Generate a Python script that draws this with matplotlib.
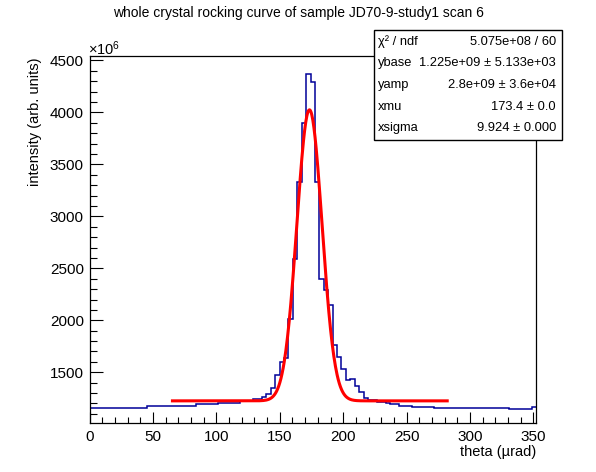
import numpy as np
import matplotlib
matplotlib.use("Agg")
import matplotlib.pyplot as plt
from matplotlib.patches import Rectangle
from matplotlib.ticker import MultipleLocator

plt.rcParams['font.family'] = ['Liberation Sans', 'DejaVu Sans']
plt.rcParams['mathtext.fontset'] = 'custom'
plt.rcParams['mathtext.rm'] = 'Liberation Sans'
plt.rcParams['mathtext.it'] = 'Liberation Sans:italic'

# histogram (intensity in units of 1e6), 101 bins from 0 to 352 urad
x_min, x_max = 0.0, 352.0
counts = [
    1160, 1160, 1160, 1160, 1160, 1160, 1160, 1160, 1160, 1160,
    1160, 1160, 1160, 1172, 1172, 1172, 1172, 1172, 1172, 1172,
    1172, 1172, 1172, 1172, 1191, 1191, 1191, 1191, 1191, 1201,
    1201, 1201, 1201, 1201, 1223, 1223, 1223, 1242, 1242, 1262,
    1289, 1348, 1472, 1597, 1633, 2010, 2588, 3328, 3896, 4367,
    4290, 3328, 2395, 2289, 2145, 1761, 1643, 1535, 1423, 1440,
    1365, 1315, 1252, 1230, 1230, 1210, 1210, 1201, 1191, 1191,
    1178, 1178, 1178, 1168, 1168, 1168, 1168, 1168, 1158, 1158,
    1158, 1158, 1158, 1158, 1158, 1158, 1158, 1158, 1158, 1158,
    1158, 1158, 1158, 1158, 1158, 1149, 1149, 1149, 1149, 1149,
    1162,
]

# gaussian fit result (units of 1e6 for ybase / yamp)
ybase = 1225.0
yamp = 2800.0
xmu = 173.4
xsigma = 9.924
fit_range = [65.4, 282.0]

stat_names = ["\u03c7\u00b2 / ndf", "ybase", "yamp", "xmu", "xsigma"]
stat_values = ["5.075e+08 / 60", "1.225e+09 \u00b1 5.133e+03",
               "2.8e+09 \u00b1 3.6e+04", "173.4 \u00b1 0.0", "9.924 \u00b1 0.000"]

W, H = 596, 472
fig = plt.figure(figsize=(W / 100, H / 100), dpi=100)

left, right, top, bottom = 89.5, 536.0, 56.3, 423.0
ax = fig.add_axes([left / W, 1 - bottom / H, (right - left) / W, (bottom - top) / H])

edges = np.linspace(x_min, x_max, len(counts) + 1)
ax.stairs(counts, edges, baseline=None, color='#000099', lw=1.1)

xf = np.linspace(fit_range[0], fit_range[1], 500)
yf = ybase + yamp * np.exp(-0.5 * ((xf - xmu) / xsigma) ** 2)
ax.plot(xf, yf, color='#ff0000', lw=2.2)

ax.set_xlim(x_min, x_max)
ax.set_ylim(1012, 4540)

ax.xaxis.set_major_locator(MultipleLocator(50))
ax.xaxis.set_minor_locator(MultipleLocator(10))
ax.yaxis.set_major_locator(MultipleLocator(500))
ax.yaxis.set_minor_locator(MultipleLocator(100))
ax.tick_params(which='both', direction='in', top=False, right=False, width=0.8)
ax.tick_params(axis='x', which='major', length=7.9, pad=5, labelsize=11)
ax.tick_params(axis='x', which='minor', length=4.0)
ax.tick_params(axis='y', which='major', length=9.6, pad=4, labelsize=11)
ax.tick_params(axis='y', which='minor', length=4.8)
for s in ax.spines.values():
    s.set_linewidth(0.9)

# axis titles, ROOT style (at the ends of the axes)
fig.text(536 / W, 1 - 452 / H, "theta (\u00b5rad)", ha='right', va='center', fontsize=10.5)
fig.text(35 / W, 1 - 58 / H, "intensity (arb. units)", rotation=90,
         ha='center', va='top', fontsize=10.5)
fig.text(88 / W, 1 - 55 / H, r"$\times10^{6}$", ha='left', va='baseline', fontsize=10.5)

fig.text(0.5, 1 - 13 / H, "whole crystal rocking curve of sample JD70-9-study1 scan 6",
         ha='center', va='center', fontsize=10)

# stats box
bx0, bx1, by0, by1 = 374, 562, 29.5, 140
fig.add_artist(Rectangle((bx0 / W, 1 - by1 / H), (bx1 - bx0) / W, (by1 - by0) / H,
                         transform=fig.transFigure, facecolor='white',
                         edgecolor='black', lw=1.0, zorder=5))
row_y = [41.7, 63.3, 85.0, 106.7, 128.0]
for name, val, ry in zip(stat_names, stat_values, row_y):
    fig.text(378 / W, 1 - ry / H, name, ha='left', va='center', fontsize=9.3, zorder=6)
    fig.text(556 / W, 1 - ry / H, val, ha='right', va='center', fontsize=9.3, zorder=6)

fig.savefig("out.png", dpi=100)
